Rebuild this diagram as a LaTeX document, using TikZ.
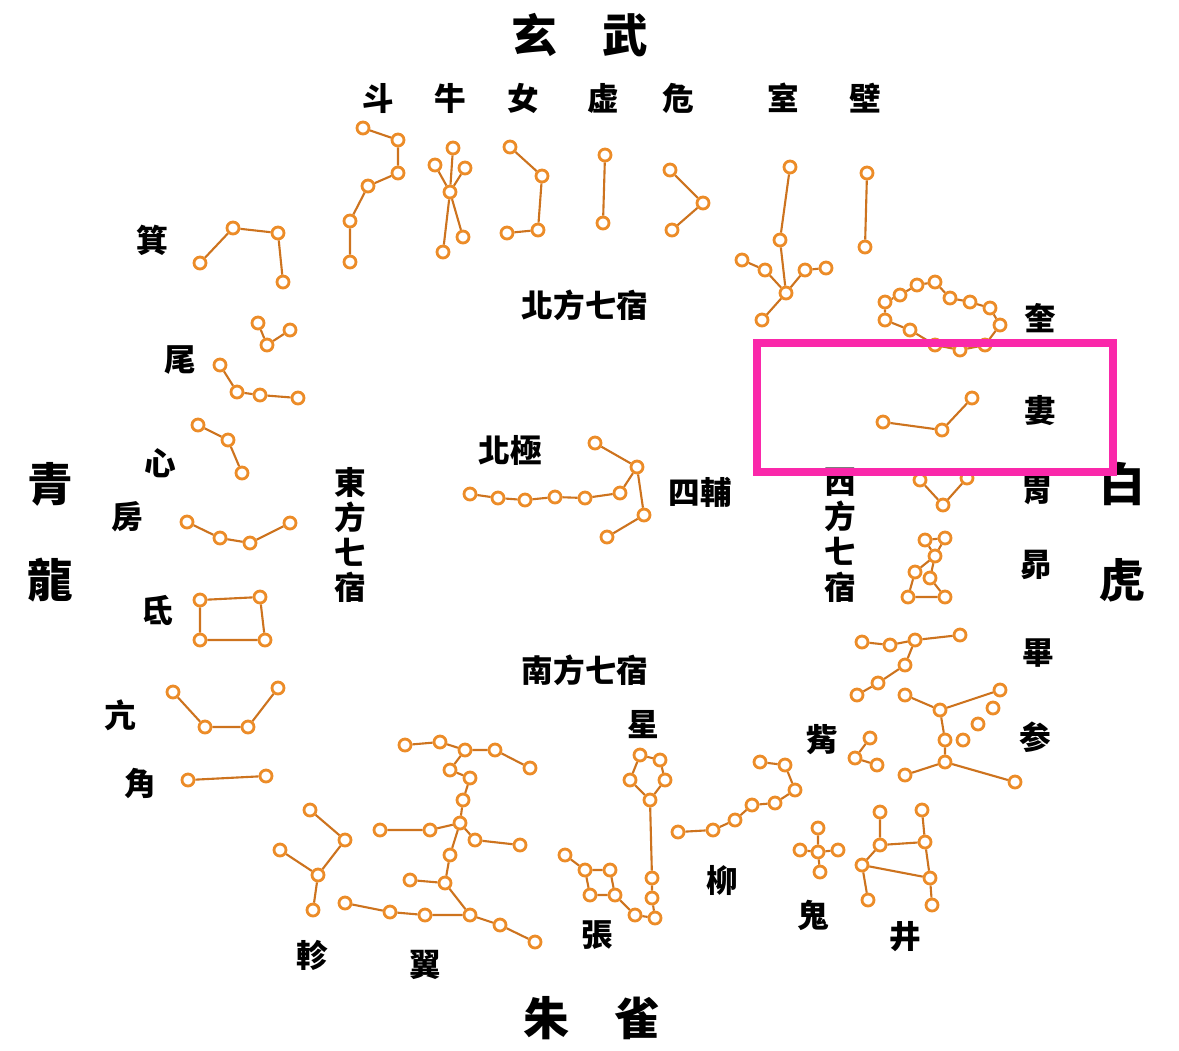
\documentclass[tikz,border=0pt]{standalone}
\usepackage{fontspec}
\setmainfont{Noto Sans CJK TC}
\usetikzlibrary{backgrounds}
\definecolor{starcol}{RGB}{236,140,40}
\definecolor{linkcol}{RGB}{205,115,30}
\tikzset{
  star/.style = {circle, draw=starcol, fill=white, line width=.8pt, inner sep=0pt, minimum size=.12cm},
  link/.style = {draw=linkcol, line width=.6pt},
  lbl/.style = {font=\fontsize{9}{9}\selectfont\bfseries, inner sep=0pt},
  big/.style = {font=\fontsize{13}{13}\selectfont\bfseries, inner sep=0pt},
}
\begin{document}
\begin{tikzpicture}[x=.01cm, y=-.01cm]
		\useasboundingbox (0,0) rectangle (1179,1050);
		% stars
		\foreach \n/\x/\y in {d1/363/128, d2/398/140, d3/398/173, d4/368/186, d5/350/221, d6/350/262,
			n1/435/165, n2/453/148, n3/465/168, n4/450/192, n5/443/252, n6/463/237,
			v1/510/147, v2/542/176, v3/538/230, v4/507/233,
			x1/605/155, x2/603/223,
			w1/670/170, w2/703/203, w3/672/230,
			s1/790/167, s2/780/240, s3/786/293, s4/742/260, s5/765/270, s6/805/270, s7/826/268, s8/762/320,
			b1/867/173, b2/865/247,
			j1/200/263, j2/233/228, j3/278/233, j4/283/282,
			t1/258/323, t2/290/330, t3/267/345, t4/220/365, t5/237/392, t6/260/395, t7/298/398,
			h1/198/425, h2/228/440, h3/242/473,
			f1/187/522, f2/220/538, f3/250/543, f4/290/523,
			di1/200/600, di2/260/597, di3/265/640, di4/200/640,
			k1/173/692, k2/205/727, k3/248/727, k4/278/688,
			a1/188/780, a2/266/776,
			p1/470/494, p2/498/498, p3/525/500, p4/555/497, p5/585/498, p6/620/493,
			q1/595/443, q2/637/467, q3/644/515, q4/607/537}
			\node[star] (\n) at (\x,\y) {};
		\foreach \n/\x/\y in {ku1/885/320, ku2/885/302, ku3/900/295, ku4/917/285, ku5/935/282, ku6/950/298, ku7/970/302,
			ku8/990/308, ku9/1000/325, ku10/985/345, ku11/960/350, ku12/935/345, ku13/910/330,
			l1/883/422, l2/942/430, l3/972/398,
			we1/920/480, we2/943/505, we3/967/478,
			m1/925/540, m2/945/538, m3/935/556, m4/915/572, m5/930/578, m6/908/597, m7/945/597,
			bi1/960/635, bi2/915/640, bi3/890/645, bi4/862/642, bi5/905/665, bi6/878/683, bi7/857/695,
			c1/1000/690, c2/940/710, c3/905/695, c4/993/708, c5/978/724, c6/963/740, c7/945/740, c8/945/762, c9/905/775, c10/1015/782,
			z1/870/738, z2/855/758, z3/877/765,
			g1/880/812, g2/922/810, g3/880/845, g4/925/842, g5/862/865, g6/930/878, g7/868/900, g8/932/905,
			o1/818/828, o2/800/850, o3/818/852, o4/838/850, o5/820/872,
			y1/678/832, y2/713/830, y3/735/820, y4/752/805, y5/775/803, y6/795/790, y7/785/765, y8/760/762,
			xi1/640/755, xi2/660/760, xi3/630/780, xi4/665/780, xi5/650/800, xi6/652/878, xi7/652/898, xi8/655/918,
			zh1/565/855, zh2/585/870, zh3/610/870, zh4/590/895, zh5/615/895, zh6/635/915,
			yi1/405/745, yi2/440/742, yi3/465/750, yi4/495/750, yi5/530/768, yi6/450/770, yi7/470/778, yi8/463/800,
			yi9/460/823, yi10/380/830, yi11/430/830, yi12/475/840, yi13/520/845, yi14/450/855, yi15/410/880,
			yi16/445/883, yi17/345/903, yi18/390/912, yi19/425/915, yi20/470/915, yi21/500/925, yi22/535/942,
			e1/310/810, e2/345/840, e3/280/850, e4/318/875, e5/313/910}
			\node[star] (\n) at (\x,\y) {};
		% links
		\begin{scope}[on background layer]
		\draw [link] (d1) -- (d2) -- (d3) -- (d4) -- (d5) -- (d6);
		\draw [link] (n1) -- (n4) -- (n5); \draw [link] (n2) -- (n4); \draw [link] (n3) -- (n4) -- (n6);
		\draw [link] (v1) -- (v2) -- (v3) -- (v4);
		\draw [link] (x1) -- (x2);
		\draw [link] (w1) -- (w2) -- (w3);
		\draw [link] (s1) -- (s2) -- (s3) -- (s8); \draw [link] (s4) -- (s5) -- (s3) -- (s6) -- (s7);
		\draw [link] (b1) -- (b2);
		\draw [link] (j1) -- (j2) -- (j3) -- (j4);
		\draw [link] (t1) -- (t3) -- (t2);
		\draw [link] (t4) -- (t5) -- (t6) -- (t7);
		\draw [link] (h1) -- (h2) -- (h3);
		\draw [link] (f1) -- (f2) -- (f3) -- (f4);
		\draw [link] (di1) -- (di2) -- (di3) -- (di4) -- (di1);
		\draw [link] (k1) -- (k2) -- (k3) -- (k4);
		\draw [link] (a1) -- (a2);
		\draw [link] (p1) -- (p2) -- (p3) -- (p4) -- (p5) -- (p6);
		\draw [link] (q1) -- (q2) -- (q3) -- (q4); \draw [link] (p6) -- (q2);
		\draw [link] (ku1) -- (ku2) -- (ku3) -- (ku4) -- (ku5) -- (ku6) -- (ku7) -- (ku8) -- (ku9) -- (ku10) -- (ku11) -- (ku12) -- (ku13) -- (ku1);
		\draw [link] (l1) -- (l2) -- (l3);
		\draw [link] (we1) -- (we2) -- (we3);
		\draw [link] (m1) -- (m2) -- (m3) -- (m1); \draw [link] (m3) -- (m4) -- (m6) -- (m7) -- (m5) -- (m3);
		\draw [link] (bi1) -- (bi2) -- (bi3) -- (bi4); \draw [link] (bi2) -- (bi5) -- (bi6) -- (bi7);
		\draw [link] (c1) -- (c2) -- (c3); \draw [link] (c2) -- (c7) -- (c8) -- (c9); \draw [link] (c8) -- (c10);
		\draw [link] (z1) -- (z2) -- (z3);
		\draw [link] (g1) -- (g3) -- (g5) -- (g7); \draw [link] (g2) -- (g4) -- (g6) -- (g8);
		\draw [link] (g3) -- (g4); \draw [link] (g5) -- (g6);
		\draw [link] (o1) -- (o3) -- (o5); \draw [link] (o2) -- (o3) -- (o4);
		\draw [link] (y1) -- (y2) -- (y3) -- (y4) -- (y5) -- (y6) -- (y7) -- (y8);
		\draw [link] (xi1) -- (xi2) -- (xi4) -- (xi5) -- (xi3) -- (xi1); \draw [link] (xi5) -- (xi6) -- (xi7) -- (xi8);
		\draw [link] (zh1) -- (zh2) -- (zh3) -- (zh5) -- (zh4) -- (zh2); \draw [link] (zh5) -- (zh6) -- (xi8);
		\draw [link] (yi1) -- (yi2) -- (yi3) -- (yi4) -- (yi5); \draw [link] (yi3) -- (yi6) -- (yi7) -- (yi8) -- (yi9);
		\draw [link] (yi10) -- (yi11) -- (yi9) -- (yi12) -- (yi13); \draw [link] (yi9) -- (yi14) -- (yi16) -- (yi15);
		\draw [link] (yi17) -- (yi18) -- (yi19) -- (yi20) -- (yi21) -- (yi22); \draw [link] (yi16) -- (yi20);
		\draw [link] (e1) -- (e2) -- (e4) -- (e5); \draw [link] (e3) -- (e4);
		\end{scope}
		% labels
		\node[big] (xuanwu) at (580,35) {玄\hspace{1em}武};
		\node[big] (zhuque) at (592,1018) {朱\hspace{1em}雀};
		\node[big] (qing) at (50,484) {青};
		\node[big] (long) at (50,580) {龍};
		\node[big] (bai) at (1122,484) {白};
		\node[big] (hu) at (1122,580) {虎};
		\foreach \n/\x/\y/\t in {ldou/378/98/斗, lniu/450/98/牛, lnv/523/98/女, lxu/603/98/虚, lwei/678/98/危,
			lshi/783/98/室, lbi/865/98/壁, lji/152/240/箕, lwe/180/360/尾, lxin/160/463/心, lfang/127/517/房,
			ldi/157/610/氐, lkang/120/715/亢, ljiao/140/783/角, lzhen/312/955/軫, lyi/425/965/翼, lzhang/597/935/張,
			lxing/643/725/星, lliu/722/880/柳, lgui/813/915/鬼, ljing/905/937/井, lzi/822/740/觜, lshen/1035/737/参,
			lbie/1038/653/畢, lmao/1036/565/昴, lwei2/1037/490/胃, llou/1040/410/婁, lkui/1040/318/奎,
			lnorth/585/305/北方七宿, lsouth/585/670/南方七宿, lpole/510/450/北極, lsifu/700/492/四輔}
			\node[lbl] (\n) at (\x,\y) {\t};
		\node[lbl, align=center] (least) at (350,535) {東\\[1pt]方\\[1pt]七\\[1pt]宿};
		\node[lbl, align=center] (lwest) at (840,535) {西\\[1pt]方\\[1pt]七\\[1pt]宿};
		\draw [line width=2.4pt, draw={rgb,255:red,250;green,40;blue,170}] (757,343) rectangle (1113,472);
\end{tikzpicture}
\end{document}
